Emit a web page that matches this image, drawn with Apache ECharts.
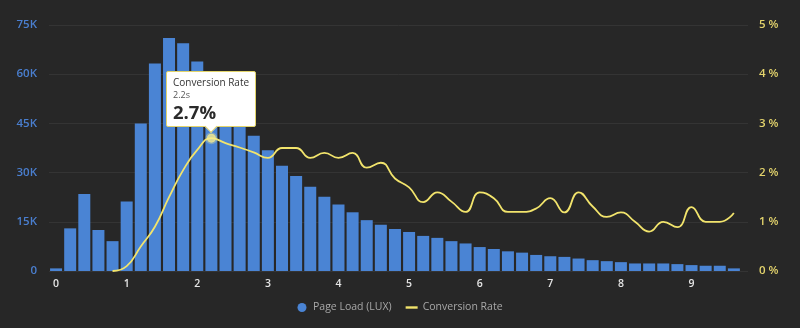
<!DOCTYPE html>
<html><head><meta charset="utf-8">
<script src="https://cdn.jsdelivr.net/npm/echarts@6/dist/echarts.min.js"></script>
<style>html,body{margin:0;padding:0;background:#272727}#c{width:800px;height:328px}</style>
</head><body><div id="c"></div>
<script>
// Load time buckets (seconds)
const loadTimes = [0,0.2,0.4,0.6,0.8,1,1.2,1.4,1.6,1.8,2,2.2,2.4,2.6,2.8,3,3.2,3.4,3.6,3.8,4,4.2,4.4,4.6,4.8,5,5.2,5.4,5.6,5.8,6,6.2,6.4,6.6,6.8,7,7.2,7.4,7.6,7.8,8,8.2,8.4,8.6,8.8,9,9.2,9.4,9.6];
// Page Load (LUX) counts
const pageLoads = [800,13000,23500,12500,9100,21200,45000,63300,71000,69400,63900,58000,52000,46500,41200,36800,32100,29000,25700,22600,20300,17900,15500,14100,12800,11900,10700,10100,9100,8400,7300,6700,6000,5600,4900,4500,4300,3800,3300,3000,2700,2300,2300,2300,2100,1800,1600,1600,800];
// Conversion rate (%)
const conversionRate = [null,null,null,null,0,0.1,0.5,0.9,1.5,2.05,2.46,2.7,2.6,2.51,2.41,2.3,2.5,2.5,2.3,2.4,2.3,2.4,2.1,2.2,1.88,1.7,1.4,1.6,1.41,1.2,1.6,1.48,1.2,1.2,1.27,1.48,1.19,1.6,1.31,1.1,1.19,1.0,0.8,1.0,0.89,1.3,1.0,1.0,1.18];
// Tick labels
const xTicks = [0,1,2,3,4,5,6,7,8,9];
const leftTicks = ['0','15K','30K','45K','60K','75K'];
const rightTicks = ['0 %','1 %','2 %','3 %','4 %','5 %'];
const highlightTime = 2.2;

const FONT = '"Open Sans", sans-serif';
const hi = loadTimes.indexOf(highlightTime);

const chart = echarts.init(document.getElementById('c'), null, {renderer: 'canvas'});
chart.setOption({
  backgroundColor: '#272727',
  animation: false,
  textStyle: {fontFamily: FONT},
  grid: {left: 49, right: 52, top: 25, bottom: 57},
  legend: {
    bottom: 10, left: 'center', itemGap: 14, itemWidth: 12, itemHeight: 9,
    textStyle: {color: '#a8a8a8', fontSize: 10.5, fontFamily: FONT},
    data: [
      {name: 'Page Load (LUX)', icon: 'circle'},
      {name: 'Conversion Rate', icon: 'path://M0,0 L12,0 L12,2.4 L0,2.4 Z'}
    ]
  },
  tooltip: {
    trigger: 'item', triggerOn: 'none', alwaysShowContent: true, confine: false,
    position: function (point, params, dom, rect, size) {
      return [point[0] - size.contentSize[0] / 2, point[1] - size.contentSize[1] - 11];
    },
    backgroundColor: '#ffffff', borderColor: '#e2d46a', borderWidth: 1,
    padding: [4, 6, 2, 6],
    extraCssText: 'border-radius:2px;box-shadow:none;',
    formatter: function (p) {
      return '<div style="font-family:' + FONT.replace(/"/g, "'") + ';color:#333;line-height:1;white-space:nowrap">' +
        '<div style="font-size:10px;line-height:13px">Conversion Rate</div>' +
        '<div style="font-size:9px;line-height:11px;color:#555">' + p.value[0] + 's</div>' +
        '<div style="font-size:18.5px;line-height:24px;font-weight:700;color:#2a2a2a">' + p.value[1] + '%</div></div>' +
        '<div style="position:absolute;left:50%;bottom:-5px;width:8px;height:8px;background:#fff;' +
        'border-right:1px solid #e2d46a;border-bottom:1px solid #e2d46a;transform:translateX(-50%) rotate(45deg);"></div>';
    }
  },
  xAxis: {
    type: 'value', min: -0.1, max: 9.8,
    axisLine: {show: false}, axisTick: {show: false}, splitLine: {show: false},
    axisLabel: {customValues: xTicks, color: '#e6e6e6', fontSize: 10.5, fontWeight: 600, margin: 8}
  },
  yAxis: [
    {
      type: 'value', min: 0, max: 75000, interval: 15000,
      axisLine: {show: false}, axisTick: {show: false},
      splitLine: {lineStyle: {color: '#343434', width: 1}},
      axisLabel: {color: '#4a7fd0', fontSize: 11.5, fontWeight: 600, margin: 12,
        formatter: function (v) { return leftTicks[Math.round(v / 15000)]; }}
    },
    {
      type: 'value', min: 0, max: 5, interval: 1, position: 'right',
      axisLine: {show: false}, axisTick: {show: false}, splitLine: {show: false},
      axisLabel: {color: '#e3d36c', fontSize: 11.5, fontWeight: 600, margin: 11,
        formatter: function (v) { return rightTicks[Math.round(v)]; }}
    }
  ],
  series: [
    {
      name: 'Page Load (LUX)', type: 'bar', yAxisIndex: 0, barWidth: 12,
      itemStyle: {color: '#4a84d4'}, tooltip: {show: false},
      emphasis: {disabled: true},
      data: loadTimes.map((t, i) => [t, pageLoads[i]])
    },
    {
      name: 'Conversion Rate', type: 'line', yAxisIndex: 1, smooth: true, showSymbol: false,
      lineStyle: {color: '#f2e46c', width: 1.8}, itemStyle: {color: '#f2e46c'},
      tooltip: {show: false}, emphasis: {disabled: true}, z: 3,
      data: loadTimes.map((t, i) => [t, conversionRate[i]]).filter(d => d[1] !== null)
    },
    {
      name: 'Conversion Rate Point', type: 'scatter', yAxisIndex: 1, symbolSize: 9, z: 5,
      itemStyle: {color: '#f7ec8c', borderColor: 'rgba(247,236,140,0.4)', borderWidth: 3},
      emphasis: {disabled: true},
      data: [[loadTimes[hi], conversionRate[hi]]]
    }
  ]
});
chart.dispatchAction({type: 'showTip', seriesIndex: 2, dataIndex: 0});
</script>
</body></html>
